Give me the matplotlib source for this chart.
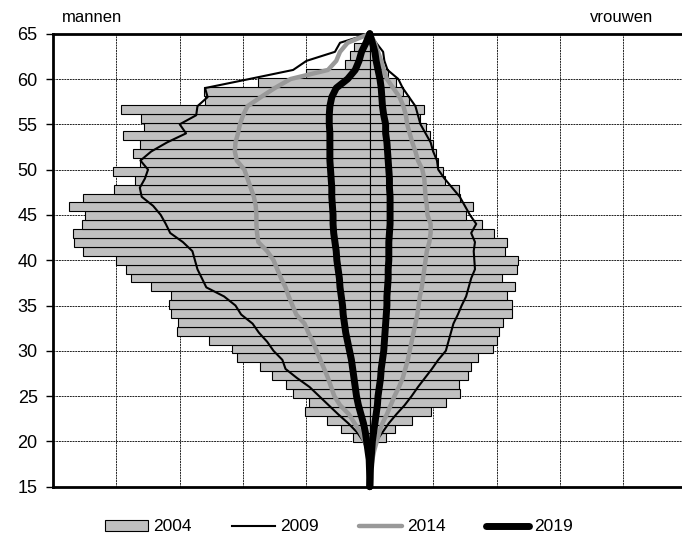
import numpy as np
import matplotlib
matplotlib.use("Agg")
import matplotlib.pyplot as plt
from matplotlib.patches import Patch
from matplotlib.lines import Line2D

plt.rcParams['font.family'] = ['Liberation Sans', 'DejaVu Sans']

# ---- data -------------------------------------------------------------
# 2004: one bar per age (20..64), men drawn to the left, women to the right
bar_ages = list(range(20, 65))
men_2004 = [0.26, 0.45, 0.68, 1.03, 0.96, 1.21, 1.33, 1.55, 1.74, 2.09,
            2.17, 2.54, 3.05, 3.03, 3.13, 3.17, 3.14, 3.45, 3.77, 3.85,
            4.00, 4.53, 4.67, 4.68, 4.55, 4.50, 4.75, 4.53, 4.04, 3.70,
            4.05, 3.63, 3.74, 3.62, 3.89, 3.57, 3.61, 3.93, 2.60, 2.62,
            1.76, 1.01, 0.39, 0.32, 0.25]
women_2004 = [0.26, 0.39, 0.66, 0.97, 1.21, 1.43, 1.41, 1.55, 1.59, 1.71,
              1.94, 2.01, 2.04, 2.11, 2.25, 2.24, 2.17, 2.29, 2.09, 2.32,
              2.34, 2.13, 2.17, 1.96, 1.77, 1.52, 1.63, 1.43, 1.41, 1.18,
              1.16, 1.07, 1.05, 0.99, 0.95, 0.88, 0.80, 0.85, 0.62, 0.52,
              0.42, 0.28, 0.20, 0.15, 0.10]

# projections: one value per age 15..65
line_ages = list(range(15, 66))
men_2009 = [0.00, 0.00, 0.01, 0.02, 0.04, 0.10, 0.20, 0.34, 0.50, 0.65,
            0.80, 0.95, 1.15, 1.33, 1.38, 1.52, 1.62, 1.75, 1.85, 2.03,
            2.12, 2.30, 2.58, 2.65, 2.72, 2.76, 2.80, 2.95, 3.15, 3.22,
            3.30, 3.42, 3.60, 3.63, 3.55, 3.50, 3.62, 3.45, 3.20, 2.90,
            3.00, 2.74, 2.72, 2.56, 2.60, 1.90, 1.21, 1.00, 0.55, 0.47,
            0.00]
women_2009 = [0.00, 0.00, 0.01, 0.02, 0.05, 0.10, 0.20, 0.30, 0.42, 0.55,
              0.66, 0.76, 0.87, 0.98, 1.08, 1.20, 1.24, 1.28, 1.32, 1.39,
              1.45, 1.52, 1.56, 1.60, 1.66, 1.65, 1.64, 1.66, 1.60, 1.68,
              1.58, 1.50, 1.42, 1.30, 1.18, 1.08, 1.06, 1.00, 0.96, 0.88,
              0.80, 0.76, 0.72, 0.62, 0.52, 0.45, 0.28, 0.23, 0.21, 0.10,
              0.00]
men_2014 = [0.00, 0.00, 0.00, 0.01, 0.03, 0.08, 0.15, 0.24, 0.33, 0.47,
            0.56, 0.61, 0.66, 0.72, 0.78, 0.84, 0.90, 0.97, 1.03, 1.16,
            1.22, 1.28, 1.33, 1.40, 1.46, 1.52, 1.62, 1.76, 1.78, 1.79,
            1.79, 1.80, 1.83, 1.88, 1.93, 1.98, 2.10, 2.13, 2.12, 2.08,
            2.05, 2.00, 1.93, 1.72, 1.50, 1.25, 0.66, 0.53, 0.47, 0.35,
            0.00]
women_2014 = [0.00, 0.01, 0.02, 0.04, 0.07, 0.11, 0.15, 0.20, 0.27, 0.33,
              0.39, 0.46, 0.52, 0.56, 0.60, 0.63, 0.66, 0.69, 0.72, 0.75,
              0.77, 0.79, 0.82, 0.84, 0.86, 0.88, 0.90, 0.94, 0.96, 0.96,
              0.91, 0.90, 0.88, 0.87, 0.86, 0.83, 0.76, 0.72, 0.67, 0.63,
              0.59, 0.57, 0.53, 0.47, 0.37, 0.27, 0.22, 0.18, 0.13, 0.08,
              0.00]
men_2019 = [0.00, 0.00, 0.005, 0.01, 0.03, 0.05, 0.07, 0.10, 0.14, 0.18,
            0.21, 0.23, 0.25, 0.27, 0.29, 0.32, 0.35, 0.38, 0.40, 0.42,
            0.43, 0.45, 0.47, 0.48, 0.50, 0.52, 0.53, 0.55, 0.57, 0.58,
            0.58, 0.59, 0.60, 0.60, 0.61, 0.62, 0.63, 0.63, 0.63, 0.63,
            0.64, 0.64, 0.63, 0.60, 0.53, 0.35, 0.23, 0.17, 0.13, 0.06,
            0.00]
women_2019 = [0.00, 0.005, 0.01, 0.02, 0.03, 0.04, 0.06, 0.08, 0.10, 0.12,
              0.13, 0.15, 0.17, 0.18, 0.20, 0.22, 0.23, 0.24, 0.25, 0.26,
              0.27, 0.27, 0.28, 0.29, 0.29, 0.30, 0.30, 0.30, 0.31, 0.32,
              0.32, 0.32, 0.32, 0.31, 0.31, 0.30, 0.29, 0.28, 0.27, 0.25,
              0.25, 0.22, 0.20, 0.19, 0.18, 0.16, 0.13, 0.10, 0.08, 0.04,
              0.00]

year_labels = ['2004', '2009', '2014', '2019']
y_ticks = [15, 20, 25, 30, 35, 40, 45, 50, 55, 60, 65]

# ---- figure -------------------------------------------------------------
fig = plt.figure(figsize=(6.82, 5.41), dpi=100)
ax = fig.add_axes([53 / 682, 54.3 / 541, 633.6 / 682, 453.0 / 541])

ax.set_xlim(-5, 5)
ax.set_ylim(15, 65)
ax.set_xticks(np.arange(-5, 6, 1))
ax.set_yticks(y_ticks)
ax.tick_params(axis='x', length=0, labelbottom=False)
ax.tick_params(axis='y', length=5, width=1.0, direction='out',
               labelsize=13, pad=6, colors='black')
ax.grid(True, color='#222222', linewidth=0.7, linestyle=(0, (2.0, 0.8)))
ax.set_axisbelow(True)
for side in ('left', 'bottom', 'top'):
    ax.spines[side].set_linewidth(2.0)
    ax.spines[side].set_color('black')
ax.spines['right'].set_visible(False)

# bars on their own category scale (ages 15..65 -> 51 slots)
ax_bar = ax.twinx()
n_slots = len(line_ages)
ax_bar.set_ylim(-0.5, n_slots - 0.5)
slot = [a - line_ages[0] for a in bar_ages]
ax_bar.barh(slot, [-v for v in men_2004], height=1.0, color='#c0c0c0',
            edgecolor='black', linewidth=0.8)
ax_bar.barh(slot, women_2004, height=1.0, color='#c0c0c0',
            edgecolor='black', linewidth=0.8)
ax_bar.axis('off')

# projection lines on the age scale
ax_ln = ax.twinx()
ax_ln.set_ylim(15, 65)
ax_ln.axis('off')
styles = [
    (men_2009, women_2009, 'black', 1.5),
    (men_2014, women_2014, '#999999', 3.2),
    (men_2019, women_2019, 'black', 5.0),
]
for men, women, col, lw in styles:
    ax_ln.plot([-v for v in men], line_ages, color=col, lw=lw,
               solid_capstyle='round', solid_joinstyle='round', clip_on=False)
    ax_ln.plot(women, line_ages, color=col, lw=lw,
               solid_capstyle='round', solid_joinstyle='round', clip_on=False)

fig.text(62 / 682, 1 - 17 / 541, 'mannen', fontsize=12, va='center', ha='left')
fig.text(653 / 682, 1 - 17 / 541, 'vrouwen', fontsize=12, va='center', ha='right')

handles = [
    Patch(facecolor='#c0c0c0', edgecolor='black', linewidth=0.8),
    Line2D([], [], color='black', lw=1.5),
    Line2D([], [], color='#999999', lw=3.2, solid_capstyle='round'),
    Line2D([], [], color='black', lw=5.0, solid_capstyle='round'),
]
fig.legend(handles, year_labels, loc='center', bbox_to_anchor=(0.497, 0.026),
           ncol=4, frameon=False, fontsize=12.5, handlelength=2.5,
           handleheight=0.6, handletextpad=0.3, columnspacing=2.3)

fig.savefig('out.png', dpi=100)
